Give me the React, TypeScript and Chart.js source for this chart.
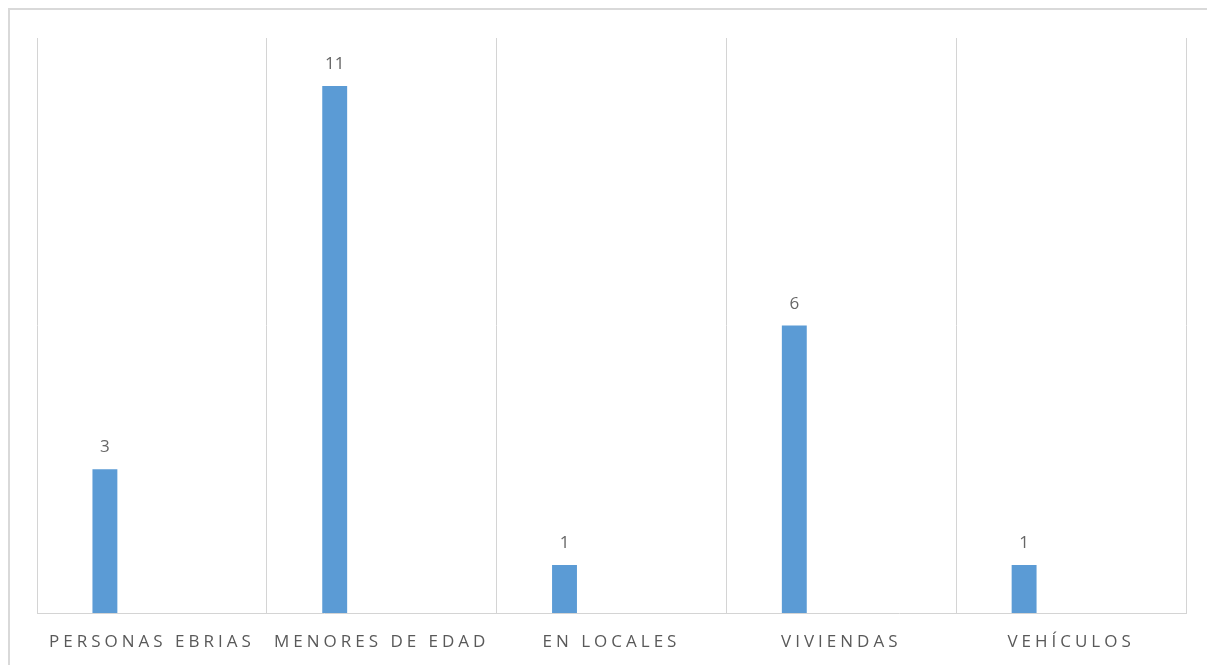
import React, { useEffect, useRef } from "react";
import { Chart, registerables } from "chart.js";

Chart.register(...registerables);

const categories = ["PERSONAS EBRIAS", "MENORES DE EDAD", "EN LOCALES", "VIVIENDAS", "VEHÍCULOS"];
const seriesValues = [3, 11, 1, 6, 1];
const emptySeries = [null, null, null, null, null];

const CANVAS_W = 1203;
const CANVAS_H = 650;

const letterSpacingPlugin = {
  id: "letterSpacing",
  beforeDraw(chart: any) {
    (chart.ctx as any).letterSpacing = "4px";
  },
  beforeDatasetsDraw(chart: any) {
    (chart.ctx as any).letterSpacing = "0px";
  },
};

const valueLabelPlugin = {
  id: "valueLabels",
  afterDatasetsDraw(chart: any) {
    const ctx = chart.ctx;
    const meta = chart.getDatasetMeta(0);
    const data = chart.data.datasets[0].data;
    ctx.save();
    (ctx as any).letterSpacing = "0px";
    ctx.font = "17px 'Open Sans'";
    ctx.fillStyle = "#666666";
    ctx.textAlign = "center";
    ctx.textBaseline = "alphabetic";
    meta.data.forEach((el: any, i: number) => {
      const v = data[i];
      if (v == null) return;
      ctx.fillText(String(v), el.x, el.y - 17);
    });
    ctx.restore();
  },
};

export default function App() {
  const ref = useRef<HTMLCanvasElement | null>(null);

  useEffect(() => {
    document.documentElement.style.overflow = "hidden";
    document.body.style.overflow = "hidden";
    const canvas = ref.current;
    if (!canvas) return;
    const chart = new Chart(canvas, {
      type: "bar",
      data: {
        labels: categories,
        datasets: [
          {
            data: seriesValues,
            backgroundColor: "#5B9BD5",
            borderWidth: 0,
            categoryPercentage: 0.818,
            barPercentage: 0.265,
          },
          {
            data: emptySeries as any,
            backgroundColor: "#ED7D31",
            borderWidth: 0,
            categoryPercentage: 0.818,
            barPercentage: 0.265,
          },
        ],
      },
      options: {
        responsive: false,
        animation: false,
        devicePixelRatio: 1,
        layout: { padding: { left: 27, right: 27, top: 28, bottom: 0 } },
        plugins: {
          legend: { display: false },
          tooltip: { enabled: false },
        },
        scales: {
          x: {
            grid: { color: "#d4d4d4", lineWidth: 1, drawTicks: false, offset: true },
            border: { color: "#d4d4d4", width: 1 },
            ticks: {
              color: "#595959",
              font: { family: "'Open Sans'", size: 17 },
              padding: 19,
              autoSkip: false,
              maxRotation: 0,
              minRotation: 0,
            },
            afterFit(scale: any) {
              scale.height = CANVAS_H - 603;
            },
          },
          y: {
            display: false,
            min: 0,
            max: 12,
          },
        },
      },
      plugins: [letterSpacingPlugin, valueLabelPlugin],
    });
    return () => chart.destroy();
  }, []);

  return (
    <div
      style={{
        width: 1207,
        height: 680,
        border: "2px solid #d9d9d9",
        boxSizing: "border-box",
        background: "#ffffff",
        overflow: "hidden",
      }}
    >
      <canvas ref={ref} width={CANVAS_W} height={CANVAS_H} style={{ display: "block" }} />
    </div>
  );
}
